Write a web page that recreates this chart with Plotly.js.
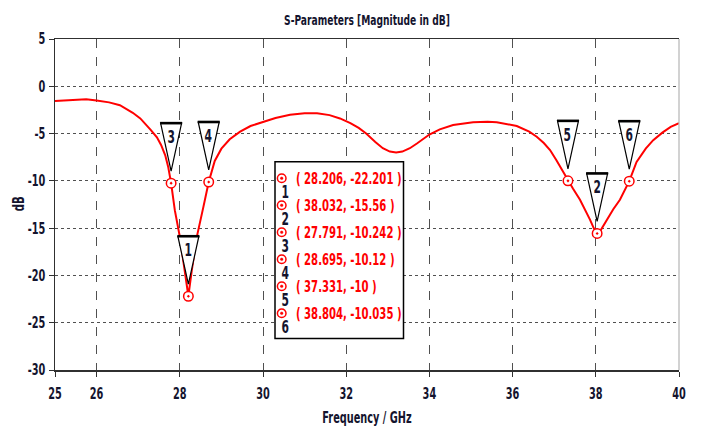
<!DOCTYPE html>
<html><head><meta charset="utf-8">
<script src="https://cdn.plot.ly/plotly-3.0.1.min.js"></script>
<style>html,body{margin:0;padding:0;background:#fff}#chart{width:701px;height:433px}</style>
</head><body><div id="chart"></div>
<script>
// ---- data ----
const freqGHz = [25.0, 25.5, 25.75, 26.0, 26.3, 26.56, 26.87, 27.05, 27.2, 27.3, 27.45, 27.55, 27.65, 27.72, 27.791,
  27.88, 28.0, 28.12, 28.206, 28.29, 28.41, 28.57, 28.695, 28.84, 29.0, 29.2, 29.45, 29.7, 30.0, 30.3, 30.65,
  31.0, 31.3, 31.6, 31.85, 32.1, 32.3, 32.48, 32.7, 32.88, 33.05, 33.2, 33.35, 33.53, 33.7, 33.85, 34.0, 34.25,
  34.57, 35.05, 35.4, 35.62, 36.1, 36.4, 36.58, 36.75, 36.9, 37.05, 37.14, 37.25, 37.331, 37.45, 37.62, 37.75,
  37.86, 37.95, 38.032, 38.12, 38.26, 38.42, 38.58, 38.7, 38.804, 38.98, 39.2, 39.38, 39.6, 39.8, 40.0];
const s11dB = [-1.55, -1.45, -1.38, -1.5, -1.7, -2.0, -2.8, -3.4, -4.1, -4.6, -5.4, -6.2, -7.3, -8.5, -10.242,
  -13.1, -15.9, -19.4, -22.201, -19.4, -15.9, -12.7, -10.12, -7.9, -6.6, -5.6, -4.8, -4.2, -3.74, -3.35, -3.0,
  -2.85, -2.85, -3.05, -3.4, -3.9, -4.4, -5.0, -5.9, -6.55, -6.9, -7.0, -6.9, -6.55, -6.05, -5.6, -5.1, -4.55,
  -4.1, -3.8, -3.75, -3.8, -4.2, -4.8, -5.33, -6.0, -6.74, -7.8, -8.5, -9.3, -10.0, -10.8, -12.0, -13.1,
  -14.1, -15.0, -15.56, -15.2, -14.1, -13.0, -12.0, -11.0, -10.035, -8.0, -6.6, -5.7, -4.9, -4.3, -3.9];

const markerIds = ['1', '2', '3', '4', '5', '6'];
const markerFreq = [28.206, 38.032, 27.791, 28.695, 37.331, 38.804];
const markerDb = [-22.201, -15.56, -10.242, -10.12, -10, -10.035];

const xTickVals = [25, 26, 28, 30, 32, 34, 36, 38, 40];
const xTickText = ['25', '26', '28', '30', '32', '34', '36', '38', '40'];
const yTickVals = [5, 0, -5, -10, -15, -20, -25, -30];
const yTickText = ['5', '0', '-5', '-10', '-15', '-20', '-25', '-30'];

const titleText = 'S-Parameters [Magnitude in dB]';
const xTitle = 'Frequency / GHz';
const yTitle = 'dB';

// ---- layout helpers ----
const FONT = '"Liberation Sans Narrow", "DejaVu Sans Condensed", "Arial Narrow", sans-serif';
const SQUEEZE = 0.70; // horizontal condensing of all text, to mimic the narrow font
const WEIGHT = 'bold';
const W = 701, H = 433;
const M = {l: 55, r: 22, t: 39, b: 63};
const PW = W - M.l - M.r, PH = H - M.t - M.b;
const fx = px => (px - M.l) / PW;
const fy = py => (H - M.b - py) / PH;
const RED = '#ff0000';
const INK = '#14142e';
const fnt = (size, color) => ({family: FONT, size: size, color: color, weight: WEIGHT});

const shapes = [];
const annotations = [];

// marker flags (inverted triangles) anchored on the marker points
markerFreq.forEach((f, i) => {
  shapes.push({type: 'path', xref: 'x', yref: 'y', xsizemode: 'pixel', ysizemode: 'pixel',
    xanchor: f, yanchor: markerDb[i], path: 'M -10.5,60 L 10.5,60 L 0,12 Z',
    fillcolor: '#ffffff', line: {color: '#000000', width: 1.2}, layer: 'above'});
  shapes.push({type: 'line', xref: 'x', yref: 'y', xsizemode: 'pixel', ysizemode: 'pixel',
    xanchor: f, yanchor: markerDb[i], x0: -11, x1: 11, y0: 60, y1: 60,
    line: {color: '#000000', width: 2.6}, layer: 'above'});
  annotations.push({xref: 'x', yref: 'y', x: f, y: markerDb[i], yshift: 46, showarrow: false,
    text: markerIds[i], font: fnt(17, INK)});
});

// marker table box
shapes.push({type: 'rect', xref: 'paper', yref: 'paper', x0: fx(275), x1: fx(403.5), y0: fy(338.5), y1: fy(161.7),
  fillcolor: '#ffffff', line: {color: '#000000', width: 1.5}, layer: 'above'});
markerIds.forEach((id, i) => {
  const rowPy = 178.3 + 27 * i;
  shapes.push({type: 'circle', xref: 'paper', yref: 'paper', xsizemode: 'pixel', ysizemode: 'pixel',
    xanchor: fx(281.7), yanchor: fy(rowPy), x0: -4.3, x1: 4.3, y0: -4.3, y1: 4.3,
    fillcolor: '#ffffff', line: {color: RED, width: 1.5}, layer: 'above'});
  shapes.push({type: 'circle', xref: 'paper', yref: 'paper', xsizemode: 'pixel', ysizemode: 'pixel',
    xanchor: fx(281.7), yanchor: fy(rowPy), x0: -1.3, x1: 1.3, y0: -1.3, y1: 1.3,
    fillcolor: RED, line: {color: RED, width: 0.5}, layer: 'above'});
  annotations.push({xref: 'paper', yref: 'paper', x: fx(285), y: fy(rowPy + 13.4), showarrow: false,
    xanchor: 'center', yanchor: 'middle', text: id, font: fnt(17, INK)});
  annotations.push({xref: 'paper', yref: 'paper', x: fx(294), y: fy(rowPy), showarrow: false,
    xanchor: 'left', yanchor: 'middle',
    text: '( ' + markerFreq[i] + ', ' + markerDb[i] + ' )', font: fnt(16, RED)});
});

// y-axis title, placed as rotated text beside the tick labels
annotations.push({xref: 'paper', yref: 'paper', x: fx(18), y: 0.5, xanchor: 'center', yanchor: 'middle',
  showarrow: false, textangle: -90, text: yTitle, font: fnt(16, INK)});

// right frame edge (light grey)
shapes.push({type: 'line', xref: 'paper', yref: 'paper', x0: 1, x1: 1, y0: 0, y1: 1,
  line: {color: '#b4b4b4', width: 1.2}, layer: 'above'});

const traces = [
  {x: freqGHz, y: s11dB, type: 'scatter', mode: 'lines', line: {color: RED, width: 2}, hoverinfo: 'skip'},
  {x: markerFreq, y: markerDb, type: 'scatter', mode: 'markers',
    marker: {symbol: 'circle-dot', size: 9.5, color: '#ffffff', line: {color: RED, width: 1.5}}, hoverinfo: 'skip'}
];

const layout = {
  width: W, height: H, margin: M, showlegend: false,
  paper_bgcolor: '#ffffff', plot_bgcolor: '#ffffff',
  font: fnt(15, INK),
  title: {text: titleText, x: fx(367), xanchor: 'center', xref: 'paper', y: 1 - 20 / H, yref: 'container', yanchor: 'middle',
    font: fnt(14.5, INK)},
  xaxis: {range: [25, 40], tickmode: 'array', tickvals: xTickVals, ticktext: xTickText,
    showline: true, linecolor: '#303030', linewidth: 1.5, mirror: true,
    ticks: 'outside', ticklen: 5, tickcolor: '#303030', tickwidth: 1, ticklabelstandoff: 4,
    showgrid: true, gridcolor: '#505050', gridwidth: 1, griddash: 'dash', zeroline: false,
    tickfont: fnt(15.5, INK),
    title: {text: xTitle, font: fnt(15.5, INK), standoff: 10}},
  yaxis: {range: [-30, 5], tickmode: 'array', tickvals: yTickVals, ticktext: yTickText,
    showline: true, linecolor: '#303030', linewidth: 1.5, mirror: false,
    ticks: 'outside', ticklen: 5, tickcolor: '#303030', tickwidth: 1,
    showgrid: true, gridcolor: '#505050', gridwidth: 1, griddash: 'dot', zeroline: false,
    tickfont: fnt(15.5, INK)},
  shapes: shapes, annotations: annotations
};

Plotly.newPlot('chart', traces, layout, {staticPlot: true, displayModeBar: false}).then(gd => {
  gd.querySelectorAll('svg text').forEach(t => {
    const len = t.getComputedTextLength();
    if (len <= 0) return;
    const leftAligned = t.textContent.trim().startsWith('(');
    const bb = leftAligned ? t.getBBox() : null;
    t.setAttribute('textLength', (len * SQUEEZE).toFixed(2));
    t.setAttribute('lengthAdjust', 'spacingAndGlyphs');
    if (leftAligned) {
      t.setAttribute('text-anchor', 'start');
      t.setAttribute('x', bb.x.toFixed(2));
    }
  });
});
</script>
</body></html>
